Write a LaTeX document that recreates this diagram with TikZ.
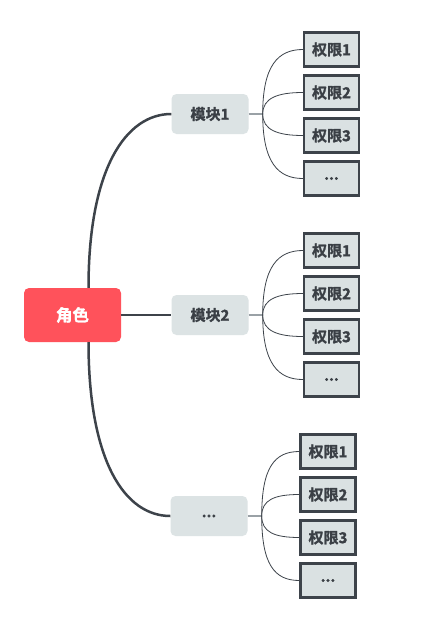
\documentclass[tikz,border=0pt]{standalone}
\usepackage{fontspec}
\setmainfont{Noto Sans CJK SC}[BoldFont={Noto Sans CJK SC Bold}, BoldFeatures={FakeBold=1.5}]
\usetikzlibrary{positioning}

\definecolor{RootColor}{HTML}{FF525B}
\definecolor{ModuleColor}{HTML}{DCE3E4}
\definecolor{LeafColor}{HTML}{DAE1E2}
\definecolor{LineColor}{HTML}{3D434A}
\definecolor{TextColor}{HTML}{3A3F45}
\definecolor{StubColor}{HTML}{9AA1A6}

\def\moredots{...}

\tikzset{
  rootbox/.style={fill=RootColor, rounded corners=5pt, minimum width=97pt,
    minimum height=54pt, text=white, font=\fontsize{16.5}{18}\selectfont\bfseries},
  modulebox/.style={fill=ModuleColor, rounded corners=5pt, minimum width=77pt,
    minimum height=40pt, text=TextColor, font=\fontsize{15}{17}\selectfont\bfseries},
  leafbox/.style={fill=LeafColor, draw=LineColor, line width=2.2pt,
    minimum width=55pt, minimum height=34pt, text=TextColor,
    font=\fontsize{15}{17}\selectfont\bfseries},
  trunk/.style={LineColor, line width=2.5pt},
  stub/.style={StubColor, line width=1.6pt},
  twig/.style={LineColor, line width=0.8pt}
}

\begin{document}
\begin{tikzpicture}[x=1pt,y=-1pt]
  % ===== Lienzo =====
  \fill[white] (0,0) rectangle (444,621);
  \useasboundingbox (0,0) rectangle (444,621);

  % ===== Raíz =====
  \node[rootbox] (root) at (72.5,315) {角色};

  % ===== Módulos y permisos =====
  \foreach \m/\mx/\my/\lbl/\lx in {
      1/210/114/模块1/331.5,
      2/210/315/模块2/331.5,
      3/209/516/\moredots/328}{
    \node[modulebox] (m\m) at (\mx,\my) {\lbl};
    \coordinate (b\m) at ([xshift=14pt]m\m.east);
    \draw[stub] (m\m.east) -- (b\m);

    \foreach \k/\dy/\txt in {
        1/-64.5/权限1,
        2/-21.5/权限2,
        3/21.5/权限3,
        4/64.5/\moredots}{
      \node[leafbox] (l\m\k) at (\lx,\my+\dy) {\txt};
      \draw[twig] (b\m) .. controls +(0,{0.75*\dy}) and +(-25,0) .. (l\m\k.west);
    }
  }

  % ===== Ramas principales =====
  \draw[trunk] ([xshift=16pt]root.north) .. controls +(0,-120) and +(-45,0) .. (m1.west);
  \draw[trunk] (root.east) -- (m2.west);
  \draw[trunk] ([xshift=16pt]root.south) .. controls +(0,120) and +(-45,0) .. (m3.west);

\end{tikzpicture}
\end{document}
